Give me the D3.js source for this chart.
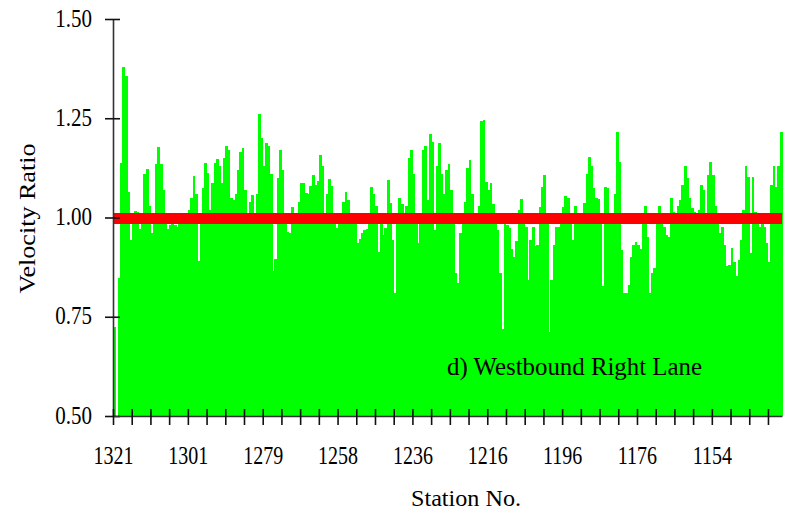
<!DOCTYPE html>
<html>
<head>
<meta charset="utf-8">
<script src="https://cdn.jsdelivr.net/npm/d3@7"></script>
<style>
  body { margin: 0; background: #fff; }
  svg { display: block; }
  text { font-family: "Liberation Serif", "Times New Roman", serif; fill: #000; }
</style>
</head>
<body>
<svg id="chart" width="786" height="514"></svg>
<script>
// Velocity ratio per measurement point, westbound right lane (east to west)
const ratios = [
  0.725, 0.50, 0.847, 1.137, 1.379, 1.357, 1.065, 0.943, 0.99, 1.017,
  1.015, 0.97, 0.99, 1.11, 1.122, 1.03, 0.96, 0.99, 1.135, 1.177,
  1.135, 1.07, 1.01, 0.97, 0.98, 0.995, 0.98, 0.975, 0.99, 1.0,
  0.995, 1.0, 1.02, 1.05, 1.105, 1.06, 0.89, 0.99, 1.075, 1.137,
  1.112, 1.02, 1.086, 1.137, 1.147, 1.13, 1.086, 1.15, 1.18, 1.17,
  1.05, 1.045, 1.06, 1.12, 1.165, 1.175, 1.07, 1.0, 1.04, 1.057,
  1.0, 1.06, 1.26, 1.2, 1.13, 1.187, 1.18, 1.11, 0.866, 0.895,
  1.1, 1.17, 1.12, 1.0, 0.964, 0.96, 1.027, 1.0, 1.0, 1.04,
  1.086, 1.087, 1.061, 1.06, 1.08, 1.107, 1.082, 1.093, 1.157, 1.13,
  1.0, 1.06, 1.097, 1.08, 1.0, 0.973, 0.995, 1.01, 1.04, 1.065,
  1.045, 1.0, 0.99, 0.985, 0.935, 0.945, 0.962, 0.968, 0.97, 0.99,
  1.078, 1.06, 1.03, 0.914, 0.99, 0.956, 0.973, 1.095, 1.036, 0.943,
  0.809, 0.99, 1.05, 1.035, 0.995, 1.03, 1.15, 1.17, 1.11, 0.995,
  0.935, 1.0, 1.17, 1.18, 1.044, 1.21, 1.19, 0.968, 1.13, 1.187,
  1.11, 1.06, 1.12, 1.135, 1.07, 0.99, 0.86, 0.834, 0.96, 0.99,
  1.04, 1.124, 1.145, 1.06, 1.0, 0.99, 1.03, 1.242, 1.246, 1.09,
  1.07, 1.086, 1.035, 1.0, 0.968, 0.86, 0.718, 0.99, 0.98, 0.973,
  0.92, 0.90, 0.94, 1.02, 1.046, 1.0, 0.977, 0.843, 0.943, 0.977,
  0.927, 0.93, 1.027, 1.078, 1.107, 0.985, 0.712, 0.843, 0.931, 0.977,
  0.975, 0.99, 1.027, 1.053, 1.05, 0.99, 0.943, 1.03, 1.0, 0.995,
  1.0, 1.036, 1.11, 1.152, 1.13, 1.074, 1.048, 1.046, 0.99, 0.828,
  1.078, 1.075, 0.99, 1.0, 1.06, 1.216, 1.14, 0.918, 0.809, 0.809,
  0.83, 0.90, 0.931, 0.939, 0.93, 0.92, 1.0, 1.03, 0.95, 0.809,
  0.86, 0.872, 1.0, 1.03, 1.0, 0.977, 0.955, 0.95, 1.05, 1.015,
  1.0, 1.03, 1.044, 1.082, 1.13, 1.1, 1.05, 1.025, 1.015, 1.0,
  1.02, 1.082, 1.07, 1.0, 1.107, 1.141, 1.107, 1.03, 0.99, 0.962,
  0.975, 0.93, 0.878, 0.88, 0.922, 0.889, 0.853, 0.893, 0.943, 1.02,
  1.13, 1.103, 0.91, 1.103, 1.015, 1.0, 0.977, 0.985, 0.977, 0.935,
  0.889, 1.082, 1.13, 1.078, 1.13, 1.216
];

// Station numbers printed under every labelled tick
const stationLabels = ["1321", "1301", "1279", "1258", "1236", "1216", "1196", "1176", "1154"];
const yTickValues = [0.50, 0.75, 1.00, 1.25, 1.50];
const referenceRatio = 1.00;
const tickEvery = 8;     // points between tick marks
const labelEvery = 32;   // points between station labels

const W = 786, H = 514;
const margin = { top: 19, right: 4, bottom: 98, left: 113 };
const plotBottom = H - margin.bottom;
const plotRight = W - margin.right;

const svg = d3.select("#chart");

const n = ratios.length;
const x = d3.scaleBand().domain(d3.range(n)).range([margin.left, plotRight]).padding(0);
const xEdge = d3.scaleLinear().domain([0, n]).range([margin.left, plotRight]);
const y = d3.scaleLinear().domain([0.5, 1.5]).range([plotBottom, margin.top]);

// Bars rising from the bottom of the value axis
svg.append("g")
  .attr("shape-rendering", "crispEdges")
  .selectAll("rect")
  .data(ratios)
  .join("rect")
  .attr("x", (d, i) => x(i))
  .attr("width", x.bandwidth() + 0.5)
  .attr("y", d => y(Math.max(d, 0.5)))
  .attr("height", d => y(0.5) - y(Math.max(d, 0.5)))
  .attr("fill", "#00ff00");

// Reference ratio line
svg.append("line")
  .attr("x1", xEdge(0))
  .attr("x2", xEdge(n))
  .attr("y1", y(referenceRatio) + 1)
  .attr("y2", y(referenceRatio) + 1)
  .attr("stroke", "#ff0000")
  .attr("stroke-width", 11);

// Value axis
const yAxis = svg.append("g")
  .attr("transform", `translate(${margin.left},0)`)
  .call(d3.axisLeft(y).tickValues(yTickValues).tickFormat(d3.format(".2f")).tickSizeOuter(0));
yAxis.select(".domain").attr("stroke", "#333").attr("stroke-width", 1.6);
yAxis.selectAll(".tick line").attr("x1", 7).attr("x2", -8).attr("stroke", "#111").attr("stroke-width", 1.6);
yAxis.selectAll(".tick text")
  .attr("x", null).attr("dy", null)
  .attr("transform", "translate(-21,7) scale(1,1.2)")
  .style("font-size", "21px")
  .attr("fill", "#000");

// Station axis: ticks on point boundaries
const xAxis = svg.append("g")
  .attr("transform", `translate(0,${plotBottom})`)
  .call(d3.axisBottom(xEdge)
    .tickValues(d3.range(0, n, tickEvery))
    .tickFormat(i => i % labelEvery === 0 ? stationLabels[i / labelEvery] : "")
    .tickSizeOuter(0));
xAxis.select(".domain").attr("stroke", "#333").attr("stroke-width", 1.6);
xAxis.selectAll(".tick line").attr("y1", -7).attr("y2", 9).attr("stroke", "#111").attr("stroke-width", 1.6);
xAxis.selectAll(".tick text")
  .attr("y", null).attr("dy", null)
  .attr("transform", "translate(0,48) scale(1,1.25)")
  .style("font-size", "20px")
  .attr("fill", "#000");

// Axis titles
svg.append("text")
  .attr("transform", `translate(35,${y(1.0) + 1}) rotate(-90)`)
  .attr("text-anchor", "middle")
  .attr("textLength", 150)
  .attr("lengthAdjust", "spacingAndGlyphs")
  .style("font-size", "24px")
  .text("Velocity Ratio");

svg.append("text")
  .attr("x", 466)
  .attr("y", 506)
  .attr("text-anchor", "middle")
  .attr("textLength", 110)
  .attr("lengthAdjust", "spacingAndGlyphs")
  .style("font-size", "24px")
  .text("Station No.");

// Panel caption inside the plot
svg.append("text")
  .attr("x", 447)
  .attr("y", 375)
  .attr("textLength", 255)
  .attr("lengthAdjust", "spacingAndGlyphs")
  .style("font-size", "24.5px")
  .text("d) Westbound Right Lane");
</script>
</body>
</html>
